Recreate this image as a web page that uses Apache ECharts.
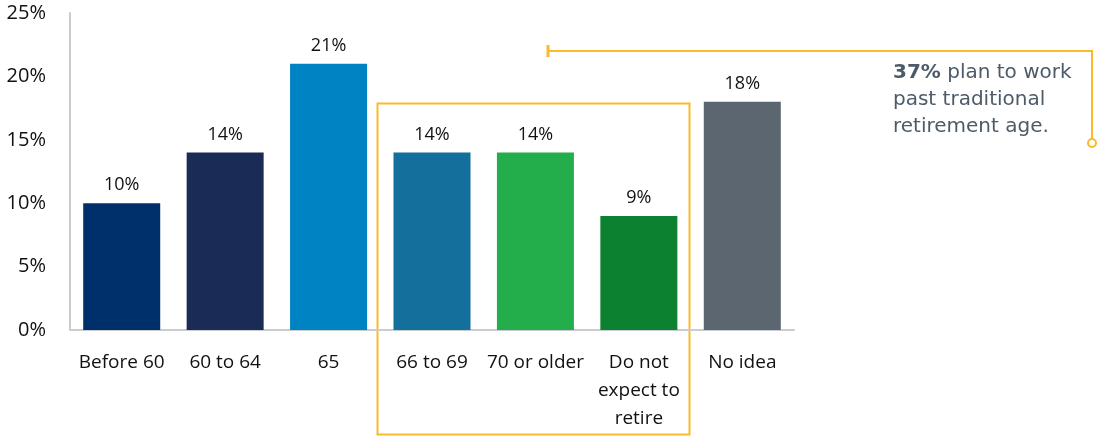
<!DOCTYPE html>
<html>
<head>
<meta charset="utf-8">
<style>
  html, body { margin: 0; padding: 0; background: #ffffff; }
  #chart { width: 1097px; height: 436px; }
</style>
<script src="https://cdn.jsdelivr.net/npm/echarts@6/dist/echarts.min.js"></script>
</head>
<body>
<div id="chart"></div>
<script>
// Expected retirement age, share of respondents (%)
const categories = ['Before 60', '60 to 64', '65', '66 to 69', '70 or older', 'Do not\nexpect to\nretire', 'No idea'];
const shares = [10, 14, 21, 14, 14, 9, 18];
const barColors = ['#00306b', '#1a2b55', '#0083c2', '#136f9b', '#24ae4b', '#0c8230', '#5b6670'];
const yTicks = [0, 5, 10, 15, 20, 25];
const calloutBold = '37%';
const calloutText = ' plan to work\npast traditional\nretirement age.';

const chart = echarts.init(document.getElementById('chart'), null, { renderer: 'canvas' });
const labelFont = '"Open Sans", "Noto Sans", sans-serif';
const calloutFont = '"DejaVu Sans", "Open Sans", sans-serif';
const accent = '#fbb92b';

chart.setOption({
  animation: false,
  grid: { left: 70, right: 303, top: 13, bottom: 106, containLabel: false },
  xAxis: {
    type: 'category',
    data: categories,
    axisLine: { show: true, lineStyle: { color: '#c9cdd1', width: 2 } },
    axisTick: { show: false },
    axisLabel: {
      color: '#111',
      fontFamily: labelFont,
      fontSize: 19,
      lineHeight: 28,
      margin: 19,
      interval: 0,
      verticalAlign: 'top'
    }
  },
  yAxis: {
    type: 'value',
    min: yTicks[0],
    max: yTicks[yTicks.length - 1],
    interval: 5,
    splitLine: { show: false },
    axisLine: { show: true, lineStyle: { color: '#c9cdd1', width: 2 } },
    axisTick: { show: false },
    axisLabel: {
      color: '#111',
      fontFamily: labelFont,
      fontSize: 20,
      margin: 24,
      formatter: v => v + '%'
    }
  },
  series: [{
    type: 'bar',
    data: shares.map((v, i) => ({ value: v, itemStyle: { color: barColors[i] } })),
    barWidth: 77,
    label: {
      show: true,
      position: 'top',
      distance: 9,
      color: '#111',
      fontFamily: labelFont,
      fontSize: 18,
      formatter: p => p.value + '%'
    }
  }],
  graphic: [
    // frame around the later-retirement categories
    {
      type: 'rect',
      shape: { x: 377.5, y: 103.5, width: 312, height: 331 },
      style: { fill: null, stroke: accent, lineWidth: 2 },
      z: 0
    },
    // bracket leading to the callout
    {
      type: 'polyline',
      shape: { points: [[548, 51], [1092, 51], [1092, 139]] },
      style: { fill: null, stroke: accent, lineWidth: 2 }
    },
    {
      type: 'line',
      shape: { x1: 548, y1: 45, x2: 548, y2: 57 },
      style: { stroke: accent, lineWidth: 3 }
    },
    {
      type: 'circle',
      shape: { cx: 1092, cy: 143, r: 4 },
      style: { fill: '#ffffff', stroke: accent, lineWidth: 2 }
    },
    {
      type: 'text',
      left: 893,
      top: 59,
      style: {
        text: '{b|' + calloutBold + '}' + calloutText,
        fill: '#4d5b69',
        font: '20px ' + calloutFont,
        lineHeight: 27,
        rich: {
          b: { fontWeight: 'bold', fontSize: 20, fontFamily: calloutFont, fill: '#4d5b69', lineHeight: 27 }
        }
      }
    }
  ]
});
</script>
</body>
</html>
